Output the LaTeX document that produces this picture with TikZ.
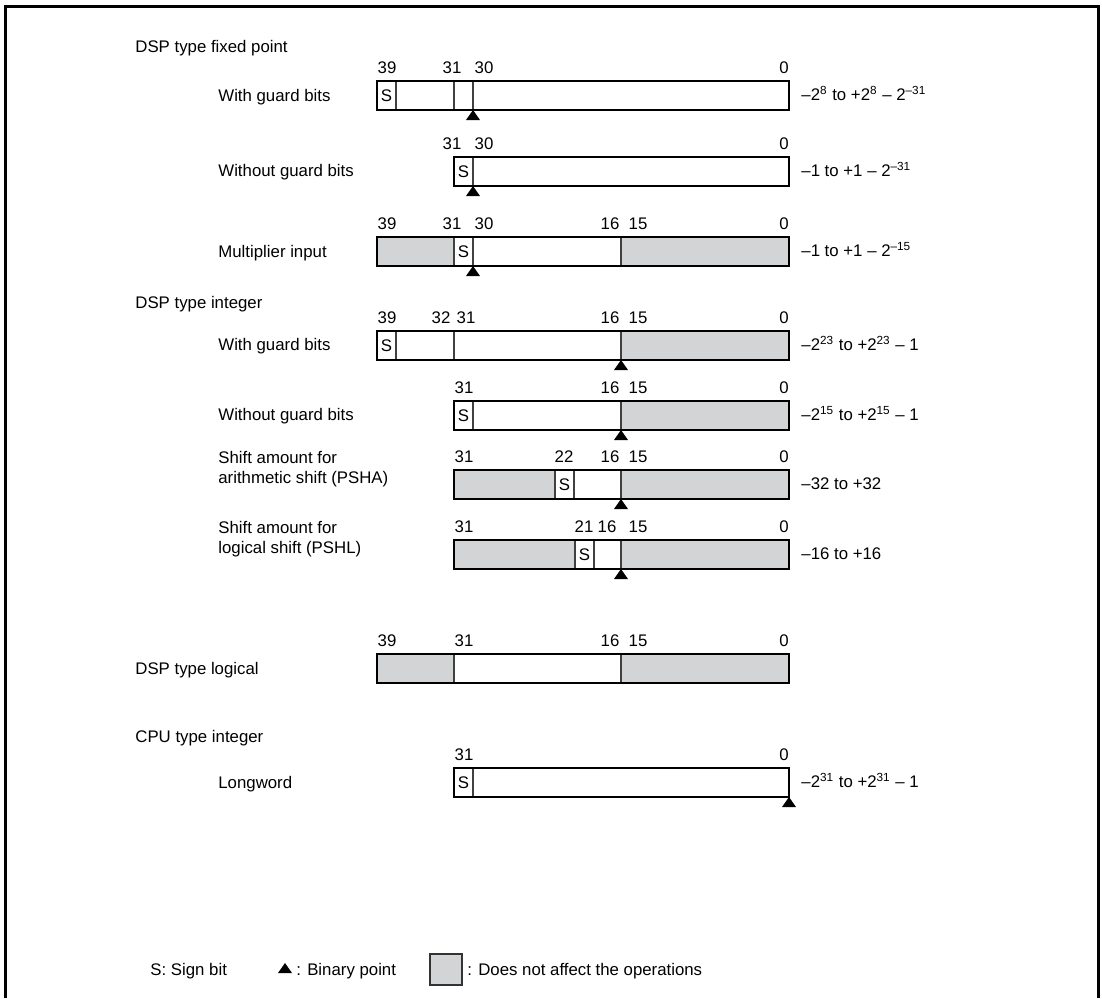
\documentclass[tikz,border=0pt]{standalone}
\usepackage{fontspec}
\setmainfont{Liberation Sans}
\usepackage{xcolor}
\usepackage{tikz}

\definecolor{offgray}{HTML}{D3D4D6}
\newcommand{\sz}{\fontsize{8.4}{10}\selectfont}
\newcommand{\up}[1]{\textsuperscript{#1}}

\tikzset{
  bar/.style={line width=1.4pt},
  sep/.style={line width=0.55pt, draw=black!75},
  off/.style={fill=offgray},
  num/.style={inner sep=0pt, anchor=mid, font=\sz},
  lbl/.style={inner sep=0pt, anchor=mid west, font=\sz},
  two/.style={inner sep=0pt, anchor=west, align=left, font=\sz},
  pt/.style={fill=black}
}

\begin{document}
\begin{tikzpicture}[x=0.5pt, y=-0.5pt]
        \useasboundingbox (0,0) rectangle (1102,998);
        \draw[line width=1.5pt] (5,998) -- (5,6) -- (1098,6) -- (1098,998);

        % DSP type fixed point
        \node[lbl] (hfix) at (135,47) {DSP type fixed point};

        \node[lbl] (t1) at (218,96) {With guard bits};
        \draw[sep] (396,81) -- (396,110);
        \draw[sep] (454,81) -- (454,110);
        \draw[sep] (473,81) -- (473,110);
        \draw[bar] (377,81) rectangle (789,110);
        \node[num] (s1) at (386.5,96) {S};
        \fill[pt] (473,110) -- ++(-7,10) -- ++(14,0) -- cycle;
        \node[num] (a39) at (387,68) {39};
        \node[num] (a31) at (452,68) {31};
        \node[num] (a30) at (484,68) {30};
        \node[num] (a0) at (784,68) {0};
        \node[lbl] (r1) at (801,95) {--2\up{8} to +2\up{8} -- 2\up{--31}};

        \node[lbl] (t2) at (218,171) {Without guard bits};
        \draw[sep] (473,157) -- (473,186);
        \draw[bar] (454,157) rectangle (789,186);
        \node[num] (s2) at (463.5,172) {S};
        \fill[pt] (473,186) -- ++(-7,10) -- ++(14,0) -- cycle;
        \node[num] (b31) at (452,144) {31};
        \node[num] (b30) at (484,144) {30};
        \node[num] (b0) at (784,144) {0};
        \node[lbl] (r2) at (801,171) {--1 to +1 -- 2\up{--31}};

        \node[lbl] (t3) at (218,252) {Multiplier input};
        \fill[off] (377,237) rectangle (454,266);
        \fill[off] (621,237) rectangle (789,266);
        \draw[sep] (454,237) -- (454,266);
        \draw[sep] (473,237) -- (473,266);
        \draw[sep] (621,237) -- (621,266);
        \draw[bar] (377,237) rectangle (789,266);
        \node[num] (s3) at (463.5,252) {S};
        \fill[pt] (473,266) -- ++(-7,10) -- ++(14,0) -- cycle;
        \node[num] (c39) at (387,224) {39};
        \node[num] (c31) at (452,224) {31};
        \node[num] (c30) at (484,224) {30};
        \node[num] (c16) at (610,224) {16};
        \node[num] (c15) at (638,224) {15};
        \node[num] (c0) at (784,224) {0};
        \node[lbl] (r3) at (801,251) {--1 to +1 -- 2\up{--15}};

        % DSP type integer
        \node[lbl] (hint) at (135,303) {DSP type integer};

        \node[lbl] (t4) at (218,345) {With guard bits};
        \fill[off] (621,331) rectangle (789,360);
        \draw[sep] (396,331) -- (396,360);
        \draw[sep] (454,331) -- (454,360);
        \draw[sep] (621,331) -- (621,360);
        \draw[bar] (377,331) rectangle (789,360);
        \node[num] (s4) at (386.5,346) {S};
        \fill[pt] (621,360) -- ++(-7,10) -- ++(14,0) -- cycle;
        \node[num] (d39) at (387,318) {39};
        \node[num] (d32) at (441,318) {32};
        \node[num] (d31) at (466,318) {31};
        \node[num] (d16) at (610,318) {16};
        \node[num] (d15) at (638,318) {15};
        \node[num] (d0) at (784,318) {0};
        \node[lbl] (r4) at (801,345) {--2\up{23} to +2\up{23} -- 1};

        \node[lbl] (t5) at (218,415) {Without guard bits};
        \fill[off] (621,401) rectangle (789,430);
        \draw[sep] (473,401) -- (473,430);
        \draw[sep] (621,401) -- (621,430);
        \draw[bar] (454,401) rectangle (789,430);
        \node[num] (s5) at (463.5,416) {S};
        \fill[pt] (621,430) -- ++(-7,10) -- ++(14,0) -- cycle;
        \node[num] (e31) at (464,388) {31};
        \node[num] (e16) at (610,388) {16};
        \node[num] (e15) at (638,388) {15};
        \node[num] (e0) at (784,388) {0};
        \node[lbl] (r5) at (801,415) {--2\up{15} to +2\up{15} -- 1};

        \node[two] (t6) at (218,469) {Shift amount for\\arithmetic shift (PSHA)};
        \fill[off] (454,470) rectangle (555,499);
        \fill[off] (621,470) rectangle (789,499);
        \draw[sep] (555,470) -- (555,499);
        \draw[sep] (574,470) -- (574,499);
        \draw[sep] (621,470) -- (621,499);
        \draw[bar] (454,470) rectangle (789,499);
        \node[num] (s6) at (564.5,485) {S};
        \fill[pt] (621,499) -- ++(-7,10) -- ++(14,0) -- cycle;
        \node[num] (f31) at (464,457) {31};
        \node[num] (f22) at (564,457) {22};
        \node[num] (f16) at (610,457) {16};
        \node[num] (f15) at (638,457) {15};
        \node[num] (f0) at (784,457) {0};
        \node[lbl] (r6) at (801,484) {--32 to +32};

        \node[two] (t7) at (218,539) {Shift amount for\\logical shift (PSHL)};
        \fill[off] (454,540) rectangle (575,569);
        \fill[off] (621,540) rectangle (789,569);
        \draw[sep] (575,540) -- (575,569);
        \draw[sep] (594,540) -- (594,569);
        \draw[sep] (621,540) -- (621,569);
        \draw[bar] (454,540) rectangle (789,569);
        \node[num] (s7) at (584.5,555) {S};
        \fill[pt] (621,569) -- ++(-7,10) -- ++(14,0) -- cycle;
        \node[num] (g31) at (464,527) {31};
        \node[num] (g21) at (584,527) {21};
        \node[num] (g16) at (607,527) {16};
        \node[num] (g15) at (638,527) {15};
        \node[num] (g0) at (784,527) {0};
        \node[lbl] (r7) at (801,554) {--16 to +16};

        % DSP type logical
        \node[lbl] (hlog) at (135,669) {DSP type logical};
        \fill[off] (377,654) rectangle (454,683);
        \fill[off] (621,654) rectangle (789,683);
        \draw[sep] (454,654) -- (454,683);
        \draw[sep] (621,654) -- (621,683);
        \draw[bar] (377,654) rectangle (789,683);
        \node[num] (h39) at (387,641) {39};
        \node[num] (h31) at (464,641) {31};
        \node[num] (h16) at (610,641) {16};
        \node[num] (h15) at (638,641) {15};
        \node[num] (h0) at (784,641) {0};

        % CPU type integer
        \node[lbl] (hcpu) at (135,737) {CPU type integer};

        \node[lbl] (t9) at (218,783) {Longword};
        \draw[sep] (473,768) -- (473,797);
        \draw[bar] (454,768) rectangle (789,797);
        \node[num] (s9) at (463.5,783) {S};
        \fill[pt] (789,797) -- ++(-7,10) -- ++(14,0) -- cycle;
        \node[num] (i31) at (464,755) {31};
        \node[num] (i0) at (784,755) {0};
        \node[lbl] (r9) at (801,782) {--2\up{31} to +2\up{31} -- 1};

        % legend
        \node[lbl] (ksign) at (150,970) {S: Sign bit};
        \fill[pt] (285,963) -- ++(-7,10) -- ++(14,0) -- cycle;
        \node[lbl] (kpoint) at (296,970) {: Binary point};
        \draw[off, line width=0.6pt, draw=black!80] (430,954) rectangle (462,985);
        \node[lbl] (koff) at (467,970) {: Does not affect the operations};
    \end{tikzpicture}
\end{document}
